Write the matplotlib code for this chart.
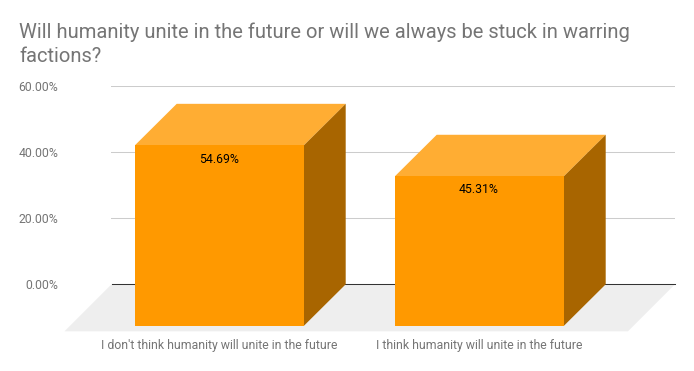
import matplotlib.pyplot as plt
from matplotlib.patches import Polygon

plt.rcParams['font.family'] = ['Roboto', 'DejaVu Sans']

title = "Will humanity unite in the future or will we always be stuck in warring\nfactions?"
categories = ["I don't think humanity will unite in the future", "I think humanity will unite in the future"]
values = [54.69, 45.31]
value_labels = ["54.69%", "45.31%"]
y_ticks = [0, 20, 40, 60]
y_tick_labels = ["0.00%", "20.00%", "40.00%", "60.00%"]

W, H = 694, 371
fig = plt.figure(figsize=(W / 100, H / 100), dpi=100, facecolor='white')

# the axes is the back wall of the fake 3d box
left, right, top, bottom = 111.5, 675.0, 86.3, 284.3
ax = fig.add_axes([left / W, 1 - bottom / H, (right - left) / W, (bottom - top) / H])

px_x = 260.0  # pixels per category
px_y = (bottom - top) / 60
ax.set_xlim((left - 219.5) / px_x, (right - 219.5) / px_x)
ax.set_ylim(0, 60)

# depth of the box, in data units
dx = 41.7 / px_x
dy = 41.4 / px_y
bar_w = 169 / px_x
floor_left = ax.get_xlim()[0]
floor_right = ax.get_xlim()[1]

for s in ['top', 'left', 'right']:
    ax.spines[s].set_visible(False)
ax.spines['bottom'].set_color('#333333')
ax.spines['bottom'].set_linewidth(0.75)
ax.spines['bottom'].set_zorder(2)

ax.set_yticks(y_ticks)
ax.set_yticklabels(y_tick_labels)
ax.grid(axis='y', color='#cccccc', linewidth=0.75, zorder=1)
ax.set_axisbelow(True)
ax.tick_params(axis='y', length=0, pad=38.4, labelsize=8.8, labelcolor='#757575')
ax.set_xticks(range(len(categories)))
ax.set_xticklabels(categories)
ax.tick_params(axis='x', length=0, pad=39.2, labelsize=8.85, labelcolor='#757575')

# floor
floor = Polygon([(floor_left, 0), (floor_right, 0),
                 (floor_right - 47 / px_x, -47 / px_y), (floor_left - 47 / px_x, -47 / px_y)],
                closed=True, facecolor='#eeeeee', edgecolor='none', clip_on=False, zorder=0.5)
ax.add_patch(floor)

ax.bar(range(len(values)), values, width=bar_w, bottom=-dy, color='#ff9900',
       clip_on=False, zorder=5)

for i, v in enumerate(values):
    x0 = i - bar_w / 2
    x1 = i + bar_w / 2
    y1 = v - dy
    ax.add_patch(Polygon([(x0, y1), (x1, y1), (x1 + dx, y1 + dy), (x0 + dx, y1 + dy)],
                         facecolor='#ffad33', edgecolor='none', clip_on=False, zorder=4))
    ax.add_patch(Polygon([(x1, -dy), (x1, y1), (x1 + dx, y1 + dy), (x1 + dx, 0)],
                         facecolor='#a86500', edgecolor='none', clip_on=False, zorder=4))
    ax.text(i - 0.5 / px_x, y1 - 13.8 / px_y, value_labels[i], ha='center', va='center',
            fontsize=8.8, color='black', zorder=6)

fig.text(19 / W, 1 - 22 / H, title, ha='left', va='top', fontsize=14.53,
         color='#757575', linespacing=1.36)

fig.savefig('out.png', dpi=100)
